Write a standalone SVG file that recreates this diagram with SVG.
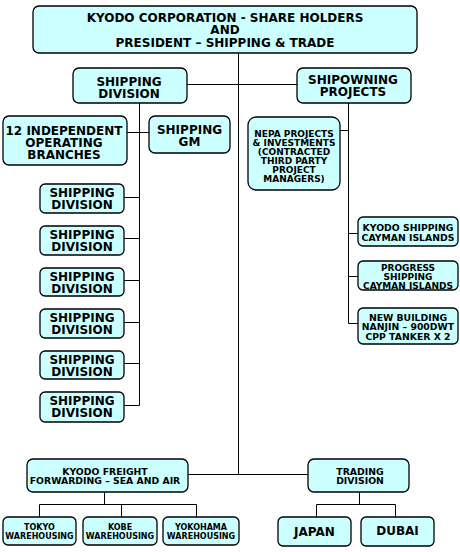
<svg xmlns="http://www.w3.org/2000/svg" width="460" height="552" viewBox="0 0 460 552">
<style>
.b{fill:#ccffff;stroke:#000;stroke-width:1.3}
.c{fill:none;stroke:#000;stroke-width:1}
text{font-family:"DejaVu Sans",Verdana,sans-serif;font-weight:bold;text-anchor:middle;fill:#000}
.f12{font-size:12px}.f9{font-size:9px}.f93{font-size:9.3px}.f8{font-size:8px}
</style>
<rect width="460" height="552" fill="#fff"/>
<g id="connectors">
<path class="c" d="M238.5 53V474.5H188M238.5 474.5H308"/>
<path class="c" d="M187 84.5H297"/>
<path class="c" d="M139.5 103V405.5H124M127 132.5H149M124 197.5H139.5M124 238.5H139.5M124 280.5H139.5M124 322.5H139.5M124 363.5H139.5"/>
<path class="c" d="M348.5 103V323.5H358M340 130.5H348.5M348.5 233.5H358M348.5 276.5H358"/>
<path class="c" d="M104.5 492V504.5M39.5 517V504.5H196.5V517M121.5 504.5V517"/>
<path class="c" d="M359.5 492V504.5M316.5 517V504.5H395.5V517"/>
</g>
<g id="top"><rect class="b" x="33" y="6" width="384" height="47" rx="6"/>
<text class="f12" x="225" y="21.5">KYODO CORPORATION - SHARE HOLDERS</text>
<text class="f12" x="225" y="34">AND</text>
<text class="f12" x="225" y="46.5">PRESIDENT – SHIPPING &amp; TRADE</text></g>
<g id="shipdiv"><rect class="b" x="73" y="68" width="114" height="35" rx="6"/>
<text class="f12" x="129" y="85.5">SHIPPING</text><text class="f12" x="129" y="97.5">DIVISION</text></g>
<g id="shipowning"><rect class="b" x="297" y="68" width="114" height="35" rx="6"/>
<text class="f12" x="353" y="83.5">SHIPOWNING</text><text class="f12" x="353" y="95.5">PROJECTS</text></g>
<g id="branches"><rect class="b" x="3" y="116" width="124" height="49" rx="6"/>
<text class="f12" x="64" y="134.5">12 INDEPENDENT</text><text class="f12" x="64" y="146.5">OPERATING</text><text class="f12" x="64" y="158.5">BRANCHES</text></g>
<g id="gm"><rect class="b" x="149" y="116" width="81" height="37" rx="6"/>
<text class="f12" x="189.5" y="133.5">SHIPPING</text><text class="f12" x="189.5" y="145.5">GM</text></g>
<g id="sd1"><rect class="b" x="40" y="184" width="84" height="29" rx="5"/><text class="f12" x="82" y="196.5">SHIPPING</text><text class="f12" x="82" y="208.5">DIVISION</text></g>
<g id="sd2"><rect class="b" x="40" y="226" width="84" height="29" rx="5"/><text class="f12" x="82" y="238.5">SHIPPING</text><text class="f12" x="82" y="250.5">DIVISION</text></g>
<g id="sd3"><rect class="b" x="40" y="268" width="84" height="28" rx="5"/><text class="f12" x="82" y="280.5">SHIPPING</text><text class="f12" x="82" y="292.5">DIVISION</text></g>
<g id="sd4"><rect class="b" x="40" y="309" width="84" height="29" rx="5"/><text class="f12" x="82" y="321.5">SHIPPING</text><text class="f12" x="82" y="333.5">DIVISION</text></g>
<g id="sd5"><rect class="b" x="40" y="351" width="84" height="28" rx="5"/><text class="f12" x="82" y="363.5">SHIPPING</text><text class="f12" x="82" y="375.5">DIVISION</text></g>
<g id="sd6"><rect class="b" x="40" y="392" width="84" height="30" rx="5"/><text class="f12" x="82" y="404.5">SHIPPING</text><text class="f12" x="82" y="416.5">DIVISION</text></g>
<g id="nepa"><rect class="b" x="248" y="117" width="92" height="73" rx="8"/>
<text class="f9" x="294" y="136.5">NEPA PROJECTS</text><text class="f9" x="294" y="145.5">&amp; INVESTMENTS</text><text class="f9" x="294" y="154.5">(CONTRACTED</text><text class="f9" x="294" y="163.5">THIRD PARTY</text><text class="f9" x="294" y="172.5">PROJECT</text><text class="f9" x="294" y="181.5">MANAGERS)</text></g>
<g id="cayman"><rect class="b" x="358" y="217" width="100" height="29" rx="5"/>
<text class="f93" x="408" y="230.5">KYODO SHIPPING</text><text class="f93" x="408" y="240.5">CAYMAN ISLANDS</text></g>
<g id="progress"><rect class="b" x="358" y="261" width="100" height="29" rx="5"/>
<text class="f9" x="408" y="270.5">PROGRESS</text><text class="f9" x="408" y="279.5">SHIPPING</text><text class="f9" x="408" y="288.5">CAYMAN ISLANDS</text></g>
<g id="newbuild"><rect class="b" x="358" y="308" width="100" height="36" rx="5"/>
<text class="f93" x="408" y="320.5">NEW BUILDING</text><text class="f93" x="408" y="330">NANJIN – 900DWT</text><text class="f93" x="408" y="339.5">CPP TANKER X 2</text></g>
<g id="freight"><rect class="b" x="27" y="459" width="161" height="33" rx="6"/>
<text class="f93" x="105" y="474.5">KYODO FREIGHT</text><text class="f93" x="105" y="484">FORWARDING – SEA AND AIR</text></g>
<g id="trading"><rect class="b" x="308" y="459" width="101" height="33" rx="6"/>
<text class="f93" x="360" y="474.5">TRADING</text><text class="f93" x="360" y="484">DIVISION</text></g>
<g id="tokyo"><rect class="b" x="3" y="517" width="73" height="28" rx="5"/><text class="f8" x="39.5" y="530">TOKYO</text><text class="f8" x="39.5" y="539">WAREHOUSING</text></g>
<g id="kobe"><rect class="b" x="83" y="517" width="74" height="28" rx="5"/><text class="f8" x="120" y="530">KOBE</text><text class="f8" x="120" y="539">WAREHOUSING</text></g>
<g id="yokohama"><rect class="b" x="163" y="517" width="76" height="28" rx="5"/><text class="f8" x="201" y="530">YOKOHAMA</text><text class="f8" x="201" y="539">WAREHOUSING</text></g>
<g id="japan"><rect class="b" x="278" y="517" width="73" height="29" rx="5"/><text class="f12" x="314.5" y="536">JAPAN</text></g>
<g id="dubai"><rect class="b" x="361" y="517" width="73" height="29" rx="5"/><text class="f12" x="397.5" y="535">DUBAI</text></g>
</svg>
